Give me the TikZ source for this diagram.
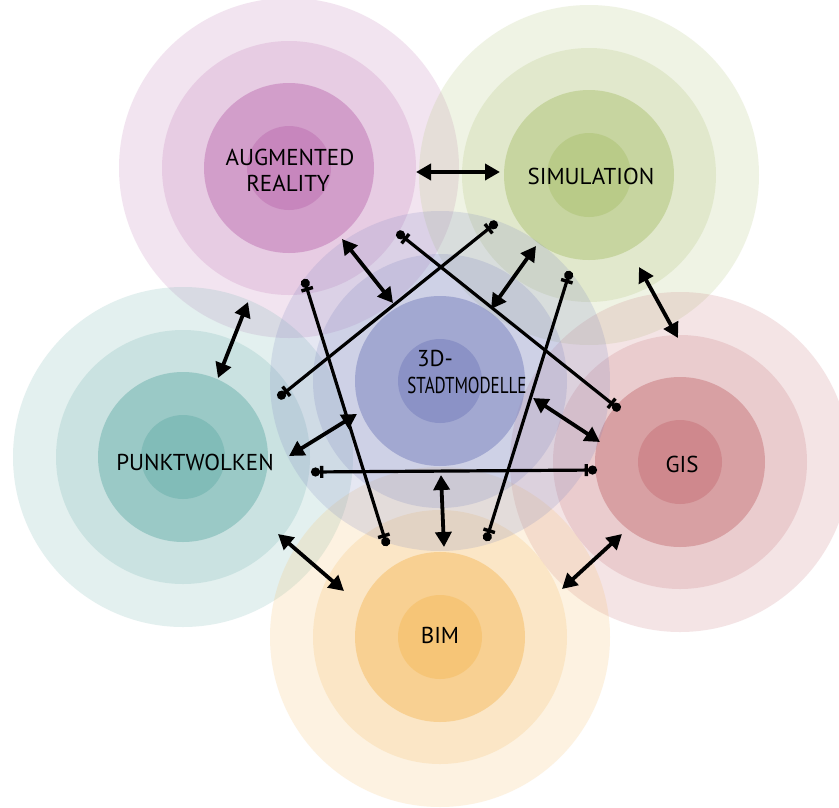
\documentclass[tikz,border=0pt]{standalone}
\usepackage{fontspec}
\setmainfont{PT Sans}
\usetikzlibrary{arrows.meta}
\definecolor{arC}{RGB}{194,122,183}
\definecolor{simC}{RGB}{178,198,124}
\definecolor{tdC}{RGB}{127,135,192}
\definecolor{pwC}{RGB}{116,181,177}
\definecolor{gisC}{RGB}{202,124,129}
\definecolor{bimC}{RGB}{246,191,105}
\tikzset{
  ringA/.style={fill=#1, fill opacity=0.2},
  ringB/.style={fill=#1, fill opacity=0.225},
  ringC/.style={fill=#1, fill opacity=0.55},
  ringD/.style={fill=#1, fill opacity=0.64},
  dbl/.style={line width=3.8pt, line cap=round,
    {Triangle[length=15pt,width=16pt]}-{Triangle[length=15pt,width=16pt]}},
  pinline/.style={line width=3.2pt,
    {Circle[length=9pt] Bar[width=12pt,line width=3.4pt]}-{Bar[width=12pt,line width=3.4pt] Circle[length=9pt]}},
  lbl/.style={font=\fontsize{23}{27}\selectfont, text=black, inner sep=0pt, anchor=center}
}
\newcommand\sysrings[2]{%
  \fill[ringA=#2] (#1) circle[radius=170];
  \fill[ringB=#2] (#1) circle[radius=127];
  \fill[ringC=#2] (#1) circle[radius=85];
  \fill[ringD=#2] (#1) circle[radius=42];
}
\begin{document}
\begin{tikzpicture}[x=1pt,y=-1pt]
\useasboundingbox[fill=white] (0,0) rectangle (839,807);
% centres
\coordinate (ar) at (289,168);
\coordinate (sim) at (589,175);
\coordinate (td) at (440,381);
\coordinate (pw) at (183,457);
\coordinate (gis) at (680,462);
\coordinate (bim) at (440,637);
\sysrings{ar}{arC}
\sysrings{sim}{simC}
\sysrings{pw}{pwC}
\sysrings{gis}{gisC}
\sysrings{bim}{bimC}
\sysrings{td}{tdC}
% labels
\node[lbl] (arl1) at (290,157) {AUGMENTED};
\node[lbl] (arl2) at (288,183) {REALITY};
\node[lbl] (siml) at (591,176) {SIMULATION};
\node[lbl] (tdl1) at (435,358) {3D-};
\node[lbl] (tdl2) at (467,385) {\scalebox{0.74}[1]{STADTMODELLE}};
\node[lbl] (pwl) at (195,462) {PUNKTWOLKEN};
\node[lbl] (gisl) at (682,464) {GIS};
\node[lbl] (biml) at (440,635) {BIM};
% arrow end points
\coordinate (a1) at (416,172); \coordinate (a2) at (500,172);
\coordinate (b1) at (248,302); \coordinate (b2) at (218,378);
\coordinate (c1) at (639,267); \coordinate (c2) at (678,338);
\coordinate (d1) at (278,534); \coordinate (d2) at (344,591);
\coordinate (e1) at (622,534); \coordinate (e2) at (562,589);
\coordinate (f1) at (342,239); \coordinate (f2) at (393,303);
\coordinate (g1) at (536,246); \coordinate (g2) at (491,309);
\coordinate (h1) at (357,414); \coordinate (h2) at (289,456);
\coordinate (i1) at (533,398); \coordinate (i2) at (600,442);
\coordinate (j1) at (441,475); \coordinate (j2) at (444,547);
\coordinate (p1) at (278,398); \coordinate (p2) at (497,222);
\coordinate (q1) at (397,232); \coordinate (q2) at (620,410);
\coordinate (r1) at (304,279); \coordinate (r2) at (387,546);
\coordinate (s1) at (570,271); \coordinate (s2) at (486,541);
\coordinate (t1) at (311,472); \coordinate (t2) at (597,470);
% pin lines
\draw[pinline] (p1) -- (p2);
\draw[pinline] (q1) -- (q2);
\draw[pinline] (r1) -- (r2);
\draw[pinline] (s1) -- (s2);
\draw[pinline] (t1) -- (t2);
% double arrows
\draw[dbl] (a1) -- (a2);
\draw[dbl] (b1) -- (b2);
\draw[dbl] (c1) -- (c2);
\draw[dbl] (d1) -- (d2);
\draw[dbl] (e1) -- (e2);
\draw[dbl] (f1) -- (f2);
\draw[dbl] (g1) -- (g2);
\draw[dbl] (h1) -- (h2);
\draw[dbl] (i1) -- (i2);
\draw[dbl] (j1) -- (j2);
\end{tikzpicture}
\end{document}
